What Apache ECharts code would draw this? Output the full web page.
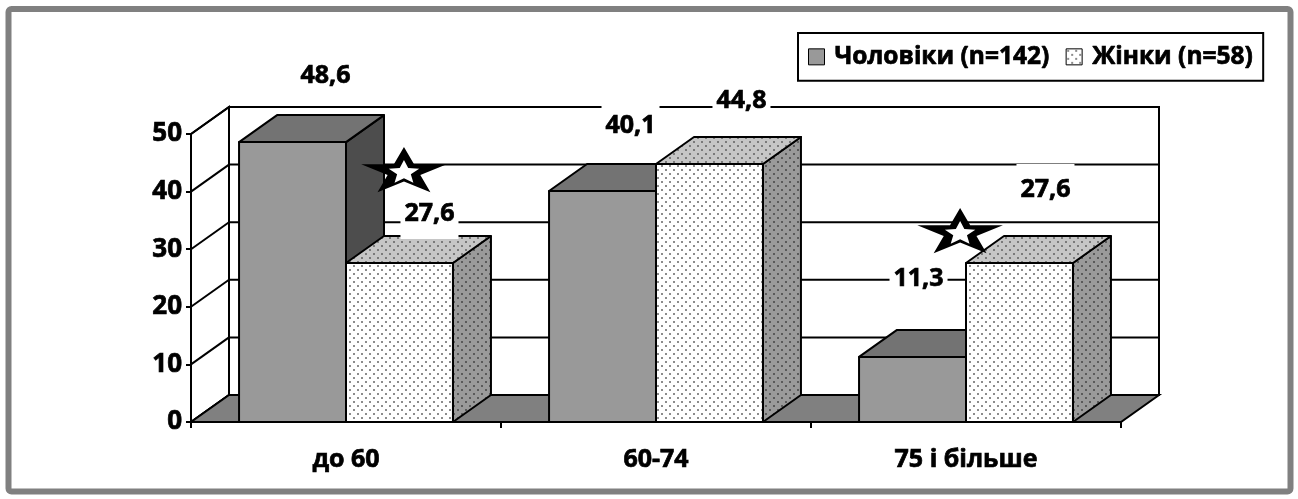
<!DOCTYPE html>
<html>
<head>
<meta charset="utf-8">
<script src="https://cdn.jsdelivr.net/npm/echarts@6/dist/echarts.min.js"></script>
<style>
  html, body { margin: 0; padding: 0; background: #fff; }
  #chart { width: 1298px; height: 499px; }
</style>
</head>
<body>
<div id="chart"></div>
<script>
// ---- data ----
const categories = ['до 60', '60-74', '75 і більше'];
const menValues = [48.6, 40.1, 11.3];
const womenValues = [27.6, 44.8, 27.6];
const seriesNames = ['Чоловіки (n=142)', 'Жінки (n=58)'];
const yTicks = [0, 10, 20, 30, 40, 50];
const starredCategories = ['до 60', '75 і більше'];

// ---- layout / styling ----
const FONT = '"Open Sans", "Noto Sans", sans-serif';
const DX = 38, DY = -27;          // depth offset of the 3D box
const BAR_FRACTION = 0.345;       // bar width as part of a category band
const LINE = '#000';
const HEAVY = { textBorderColor: '#000', textBorderWidth: 0.7 };  // thickens bold glyphs a little

// label nudges from the centre of each box's top face
const labelShift = {
  men:   [[14, -53], [9, -52], [-13, -65]],
  women: [[11, -36], [13, -50], [7, -60]]
};
// significance stars: value level and shift within the band
const starPlacement = {
  'до 60': { value: 43.4, shift: 0.187 },
  '75 і більше': { value: 32.8, shift: -0.019 }
};

function dotPattern(bg, dot) {
  const c = document.createElement('canvas');
  c.width = 8; c.height = 8;
  const g = c.getContext('2d');
  g.fillStyle = bg; g.fillRect(0, 0, 8, 8);
  g.fillStyle = dot;
  g.fillRect(1, 1, 2, 2);
  g.fillRect(5, 5, 2, 2);
  return { image: c, repeat: 'repeat' };
}

const menFaces = { front: '#999999', top: '#737373', side: '#4d4d4d' };
const womenFaces = {
  front: dotPattern('#ffffff', '#8c8c8c'),
  top: dotPattern('#c6c6c6', '#7a7a7a'),
  side: dotPattern('#9a9a9a', '#5a5a5a')
};

const fmt = v => v.toFixed(1).replace('.', ',');

function renderFrame(params, api) {
  const cs = params.coordSys;
  const x0 = cs.x, x1 = cs.x + cs.width;
  const yTop = cs.y, yBase = cs.y + cs.height;
  const stroke = { stroke: LINE, lineWidth: 2 };
  const kids = [];
  kids.push({ type: 'rect', shape: { x: x0 + DX, y: yTop + DY, width: cs.width, height: cs.height },
              style: Object.assign({ fill: '#fff' }, stroke) });
  kids.push({ type: 'polygon', shape: { points: [[x0, yTop], [x0 + DX, yTop + DY], [x0 + DX, yBase + DY], [x0, yBase]] },
              style: Object.assign({ fill: '#fff' }, stroke) });
  yTicks.forEach((t, i) => {
    const y = api.coord([0, t])[1];
    if (i > 0 && i < yTicks.length - 1) {
      kids.push({ type: 'line', shape: { x1: x0 + DX, y1: y + DY, x2: x1 + DX, y2: y + DY }, style: stroke });
    }
    kids.push({ type: 'line', shape: { x1: x0, y1: y, x2: x0 + DX, y2: y + DY }, style: stroke });
  });
  kids.push({ type: 'polygon', shape: { points: [[x0, yBase], [x1, yBase], [x1 + DX, yBase + DY], [x0 + DX, yBase + DY]] },
              style: Object.assign({ fill: '#808080' }, stroke) });
  return { type: 'group', children: kids };
}

function barRenderer(side, faces, shifts) {
  return function (params, api) {
    const cat = api.value(0), val = api.value(1);
    const top = api.coord([cat, val]);
    const by = api.coord([cat, 0])[1];
    const band = api.size([1, 0])[0];
    const w = band * BAR_FRACTION;
    const bx = side < 0 ? top[0] - w : top[0];
    const ty = top[1];
    const st = fill => ({ fill: fill, stroke: LINE, lineWidth: 2, lineJoin: 'round' });
    const sh = shifts[params.dataIndex];
    return {
      type: 'group',
      children: [
        { type: 'polygon', shape: { points: [[bx + w, ty], [bx + w + DX, ty + DY], [bx + w + DX, by + DY], [bx + w, by]] }, style: st(faces.side) },
        { type: 'polygon', shape: { points: [[bx, ty], [bx + w, ty], [bx + w + DX, ty + DY], [bx + DX, ty + DY]] }, style: st(faces.top) },
        { type: 'rect', shape: { x: bx, y: ty, width: w, height: by - ty }, style: st(faces.front) },
        { type: 'text', z2: 50,
          x: bx + w / 2 + DX / 2 + sh[0], y: ty + DY / 2 + sh[1],
          style: { text: fmt(val), font: 'bold 25px ' + FONT, fill: '#000', stroke: '#000', lineWidth: 0.7,
                   align: 'center', verticalAlign: 'middle',
                   lineHeight: 22, backgroundColor: '#fff', padding: [14, 4, 15, 4] } }
      ]
    };
  };
}

function starPoints(cx, cy, rx, ry, k) {
  const pts = [];
  for (let i = 0; i < 10; i++) {
    const a = -Math.PI / 2 + i * Math.PI / 5;
    const r = i % 2 === 0 ? 1 : k;
    pts.push([cx + rx * r * Math.cos(a), cy + ry * r * Math.sin(a)]);
  }
  return pts;
}

function renderStar(params, api) {
  const cat = api.value(0);
  const spot = starPlacement[categories[cat]];
  const p = api.coord([cat, spot.value]);
  const cx = p[0] + api.size([1, 0])[0] * spot.shift, cy = p[1];
  return {
    type: 'group',
    children: [
      { type: 'polygon', shape: { points: starPoints(cx, cy, 45, 25, 0.382) }, style: { fill: '#000' } },
      { type: 'polygon', shape: { points: starPoints(cx, cy + 0.5, 16, 12.5, 0.45) }, style: { fill: '#fff' } }
    ]
  };
}

const chart = echarts.init(document.getElementById('chart'), null, { renderer: 'canvas' });
chart.setOption({
  animation: false,
  backgroundColor: '#fff',
  graphic: [{
    type: 'rect', z: 100,
    shape: { x: 8.5, y: 9, width: 1282, height: 482.5, r: 3 },
    style: { fill: 'none', stroke: '#808080', lineWidth: 6 }
  }],
  legend: {
    left: 798, top: 33,
    padding: [11, 10, 11, 10],
    borderColor: '#000', borderWidth: 2,
    itemWidth: 16, itemHeight: 16, itemGap: 16,
    icon: 'rect',
    itemStyle: { borderColor: '#000', borderWidth: 1 },
    textStyle: Object.assign({ fontFamily: FONT, fontWeight: 'bold', fontSize: 24.5, color: '#000', padding: [0, 0, 0, 5] }, HEAVY),
    data: seriesNames
  },
  grid: { left: 191, right: 177, top: 134, bottom: 77 },
  xAxis: {
    type: 'category', data: categories, z: 10,
    axisLine: { lineStyle: { color: LINE, width: 2 } },
    axisTick: { show: true, length: 6, lineStyle: { color: LINE, width: 2 } },
    axisLabel: Object.assign({ margin: 25, color: '#000', fontFamily: FONT, fontWeight: 'bold', fontSize: 25 }, HEAVY),
    splitLine: { show: false }
  },
  yAxis: {
    type: 'value', min: yTicks[0], max: yTicks[yTicks.length - 1], interval: 10, z: 10,
    axisLine: { show: true, lineStyle: { color: LINE, width: 2 } },
    axisTick: { show: true, length: 5, lineStyle: { color: LINE, width: 2 } },
    axisLabel: Object.assign({ margin: 9, color: '#000', fontFamily: FONT, fontWeight: 'bold', fontSize: 26 }, HEAVY),
    splitLine: { show: false }
  },
  series: [
    { type: 'custom', name: 'frame', z: 1, silent: true, renderItem: renderFrame, data: [[0, 0]] },
    { type: 'custom', name: seriesNames[0], z: 2,
      itemStyle: { color: menFaces.front },
      renderItem: barRenderer(-1, menFaces, labelShift.men),
      encode: { x: 0, y: 1 },
      data: menValues.map((v, i) => [i, v]) },
    { type: 'custom', name: seriesNames[1], z: 3,
      itemStyle: { color: womenFaces.front },
      renderItem: barRenderer(1, womenFaces, labelShift.women),
      encode: { x: 0, y: 1 },
      data: womenValues.map((v, i) => [i, v]) },
    { type: 'custom', name: 'stars', z: 5, silent: true, renderItem: renderStar,
      data: starredCategories.map(c => [categories.indexOf(c)]) }
  ]
});
</script>
</body>
</html>
